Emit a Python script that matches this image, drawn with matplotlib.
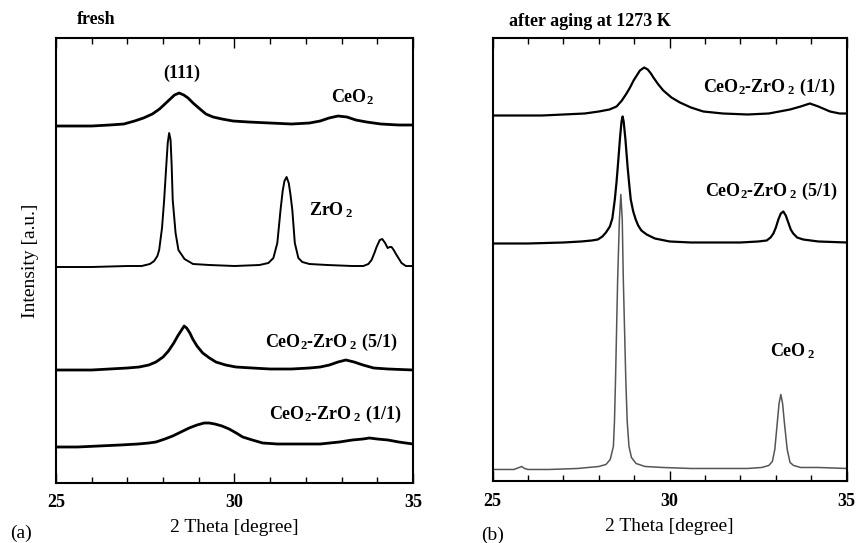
import matplotlib
matplotlib.use("Agg")
import matplotlib.pyplot as plt
from matplotlib.ticker import MultipleLocator

plt.rcParams["font.family"] = ["Liberation Serif", "DejaVu Serif"]
plt.rcParams["mathtext.default"] = "regular"

# ---- fresh samples (panel a), intensity in arbitrary units ----
fresh_ceo2_tt = [25.0, 25.5, 26.0, 26.5, 26.9, 27.2, 27.45, 27.7, 27.9, 28.05, 28.2, 28.32,
                 28.45, 28.58, 28.7, 28.84, 29.0, 29.2, 29.4, 29.65, 29.96, 30.4, 31.0, 31.6,
                 32.1, 32.4, 32.65, 32.9, 33.15, 33.4, 33.7, 34.1, 34.6, 35.0]
fresh_ceo2_i = [357, 357, 357, 358, 359, 362, 365, 369, 374, 379, 384, 388,
                390, 388, 385, 380, 375, 369, 366, 364, 362, 361, 360, 359,
                360, 362, 365, 367, 366, 363, 361, 359, 358, 358]

fresh_zro2_tt = [25.0, 26.0, 27.0, 27.4, 27.63, 27.75, 27.84, 27.89, 27.97, 28.03, 28.08, 28.13,
                 28.17, 28.21, 28.24, 28.27, 28.35, 28.43, 28.6, 28.84, 29.3, 30.0, 30.7, 30.95,
                 31.09, 31.2, 31.29, 31.35, 31.40, 31.46, 31.52, 31.57, 31.62, 31.69, 31.79, 31.9,
                 32.1, 32.6, 33.3, 33.61, 33.75, 33.84, 33.92, 33.98, 34.07, 34.14, 34.22, 34.29,
                 34.35, 34.40, 34.46, 34.54, 34.68, 34.8, 35.0]
fresh_zro2_i = [216, 216, 217, 217, 219, 222, 227, 233, 255, 283, 312, 340,
                350, 343, 318, 283, 250, 233, 224, 219, 218, 217, 218, 220,
                225, 240, 273, 292, 302, 306, 300, 288, 273, 240, 225, 221,
                219, 218, 217, 217, 219, 223, 230, 236, 243, 244, 240, 235,
                236, 236, 233, 228, 220, 217, 217]

fresh_51_tt = [25.0, 25.5, 26.0, 26.5, 27.0, 27.33, 27.6, 27.8, 28.0, 28.15, 28.3, 28.41,
               28.5, 28.59, 28.66, 28.75, 28.83, 28.95, 29.11, 29.3, 29.48, 29.75, 30.04, 30.5,
               31.0, 31.6, 32.1, 32.4, 32.66, 32.9, 33.12, 33.35, 33.6, 33.9, 34.3, 35.0]
fresh_51_i = [113, 113, 113, 114, 115, 116, 118, 121, 126, 132, 140, 147,
              152, 157, 155, 150, 144, 137, 130, 125, 121, 118, 116, 115,
              114, 114, 115, 116, 118, 121, 123, 121, 118, 115, 114, 113]

fresh_11_tt = [25.0, 25.6, 26.2, 26.8, 27.3, 27.6, 27.8, 28.05, 28.27, 28.5, 28.73, 28.95,
               29.15, 29.29, 29.45, 29.65, 29.85, 30.05, 30.23, 30.5, 30.79, 31.2, 31.8, 32.4,
               32.94, 33.3, 33.6, 33.78, 34.0, 34.3, 34.6, 35.0]
fresh_11_i = [36, 36, 37, 38, 39, 40, 41, 44, 47, 51, 55, 58,
              60, 60, 59, 57, 54, 50, 46, 43, 40, 39, 39, 39,
              41, 43, 44, 45, 44, 43, 41, 39]

# ---- aged at 1273 K (panel b) ----
aged_11_tt = [25.0, 25.7, 26.4, 27.0, 27.6, 28.0, 28.3, 28.5, 28.65, 28.78, 28.88, 28.98,
              29.07, 29.16, 29.28, 29.38, 29.47, 29.54, 29.68, 29.82, 30.05, 30.29, 30.6, 30.95,
              31.5, 32.2, 32.8, 33.1, 33.4, 33.7, 33.96, 34.2, 34.53, 34.8, 35.0]
aged_11_i = [366, 366, 366, 367, 368, 370, 372, 375, 381, 388, 394, 401,
             406, 411, 414, 412, 408, 404, 397, 391, 384, 379, 374, 370,
             368, 367, 368, 370, 372, 375, 378, 375, 370, 368, 368]

aged_51_tt = [25.0, 26.0, 27.0, 27.5, 27.8, 27.97, 28.1, 28.2, 28.31, 28.38, 28.45, 28.5,
              28.55, 28.6, 28.64, 28.67, 28.7, 28.75, 28.81, 28.86, 28.9, 28.97, 29.04, 29.11,
              29.2, 29.35, 29.58, 30.0, 30.6, 31.3, 32.0, 32.5, 32.74, 32.85, 32.93, 33.0,
              33.07, 33.14, 33.21, 33.28, 33.35, 33.42, 33.49, 33.6, 33.77, 34.2, 35.0]
aged_51_i = [238, 238, 239, 240, 241, 242, 245, 249, 255, 263, 282, 300,
             322, 345, 360, 365, 360, 342, 315, 296, 282, 270, 262, 256,
             251, 247, 243, 240, 239, 239, 239, 240, 241, 244, 248, 254,
             262, 268, 270, 266, 259, 252, 248, 244, 242, 240, 239]

aged_ceo2_tt = [25.0, 25.6, 25.75, 25.82, 25.9, 26.0, 26.6, 27.4, 28.0, 28.2, 28.32, 28.41,
                28.44, 28.47, 28.53, 28.58, 28.62, 28.66, 28.69, 28.76, 28.8, 28.85, 28.92, 29.05,
                29.3, 29.8, 30.6, 31.4, 32.2, 32.6, 32.8, 32.9, 32.97, 33.04, 33.09, 33.14,
                33.19, 33.24, 33.32, 33.4, 33.5, 33.7, 34.2, 35.0]
aged_ceo2_i = [12, 12, 14, 15, 13, 12, 12, 13, 15, 17, 22, 35,
               60, 102, 202, 262, 287, 262, 202, 102, 60, 35, 24, 18,
               15, 14, 13, 13, 13, 14, 16, 20, 32, 59, 78, 87,
               78, 59, 32, 19, 16, 14, 14, 13]

fig = plt.figure(figsize=(8.6, 5.43), dpi=100)
ax_a = fig.add_axes([0.0651, 0.1105, 0.4151, 0.8195])
ax_b = fig.add_axes([0.5729, 0.1133, 0.4116, 0.8158])

bold = dict(fontsize=13, fontweight="bold", ha="center", va="center")

ax_a.plot(fresh_ceo2_tt, fresh_ceo2_i, color="black", lw=2.0)
ax_a.plot(fresh_zro2_tt, fresh_zro2_i, color="black", lw=1.4)
ax_a.plot(fresh_51_tt, fresh_51_i, color="black", lw=2.0)
ax_a.plot(fresh_11_tt, fresh_11_i, color="black", lw=2.0)
ax_a.text(28.52, 410, "(111)", **bold)
ax_a.text(33.3, 386, "CeO$_2$", **bold)
ax_a.text(32.72, 273, r"ZrO$_{\:2}$", **bold)
ax_a.text(32.7, 141, r"CeO$_2$-ZrO$_{\:2}$ (5/1)", **bold)
ax_a.text(32.83, 69, r"CeO$_2$-ZrO$_{\:2}$ (1/1)", **bold)
ax_a.set_ylim(0, 445)

ax_b.plot(aged_11_tt, aged_11_i, color="black", lw=1.6)
ax_b.plot(aged_51_tt, aged_51_i, color="black", lw=1.6)
ax_b.plot(aged_ceo2_tt, aged_ceo2_i, color="#555555", lw=1.1)
ax_b.text(32.8, 394, r"CeO$_2$-ZrO$_{\:2}$ (1/1)", **bold)
ax_b.text(32.88, 290, r"CeO$_2$-ZrO$_{\:2}$ (5/1)", **bold)
ax_b.text(33.49, 130, r"CeO$_{\:2}$", **bold)
ax_b.set_ylim(0, 443)

for ax in (ax_a, ax_b):
    ax.set_xlim(25, 35)
    ax.xaxis.set_major_locator(MultipleLocator(5))
    ax.xaxis.set_minor_locator(MultipleLocator(1))
    ax.tick_params(axis="x", which="both", direction="in", top=True, width=1.0)
    ax.tick_params(axis="x", which="major", length=7, labelsize=13, pad=8)
    ax.tick_params(axis="x", which="minor", length=4)
    ax.set_yticks([])
    for lbl in ax.get_xticklabels():
        lbl.set_fontweight("bold")
    for sp in ax.spines.values():
        sp.set_linewidth(1.5)
    ax.set_xlabel("2 Theta [degree]", fontsize=14, labelpad=6)

ax_a.set_ylabel("Intensity [a.u.]", fontsize=14, labelpad=12)

fig.text(77 / 860, 1 - 20 / 543, "fresh", fontsize=13, fontweight="bold", ha="left", va="center")
fig.text(509 / 860, 1 - 21 / 543, "after aging at 1273 K", fontsize=13, fontweight="bold",
         ha="left", va="center")
fig.text(10 / 860, 1 - 533 / 543, "(a)", fontsize=14, ha="left", va="center")
fig.text(481 / 860, 1 - 535 / 543, "(b)", fontsize=14, ha="left", va="center")

fig.savefig("out.png", dpi=100)
